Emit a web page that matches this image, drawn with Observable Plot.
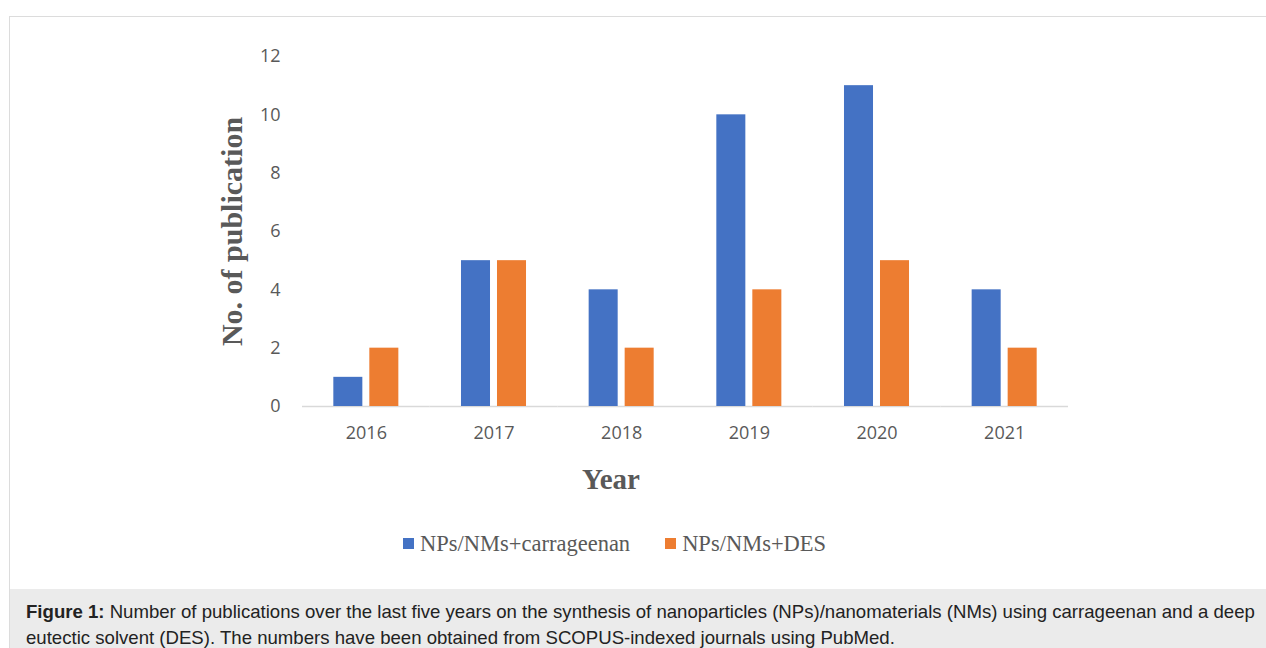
<!DOCTYPE html>
<html>
<head>
<meta charset="utf-8">
<script src="https://cdn.jsdelivr.net/npm/d3@7"></script>
<script src="https://cdn.jsdelivr.net/npm/@observablehq/plot@0.6"></script>
<style>
  html, body { margin: 0; padding: 0; background: #fff; }
  #fig { position: relative; width: 1266px; height: 648px; overflow: hidden; }
  #panel { position: absolute; left: 9px; top: 16px; width: 1270px; height: 640px;
           border-left: 1.5px solid #dcdcdc; border-top: 1.5px solid #dcdcdc; box-sizing: border-box; }
  #chart { position: absolute; left: 0; top: 0; }
  #chart g[aria-label="y-axis label"] text { font: bold 30px "Liberation Serif", serif; fill: #595959; }
  #xlabel { position: absolute; top: 463px; left: 582px; font: bold 29px "Liberation Serif", serif; color: #595959; }
  #legend { position: absolute; top: 529px; left: 403px; height: 29px; display: flex; align-items: center;
            font: 22.5px "Liberation Serif", serif; color: #595959; white-space: nowrap; }
  #legend .sw { display: inline-block; width: 11px; height: 11px; margin-right: 6px; }
  #legend .item { display: flex; align-items: center; margin-right: 35px; }
  #caption { position: absolute; left: 10px; top: 589px; width: 1260px; height: 70px; background: #ebebeb;
             font: 18.6px "Liberation Sans", Arial, sans-serif; color: #222; line-height: 26px;
             padding: 10px 0 0 16px; box-sizing: border-box; white-space: nowrap; }
</style>
</head>
<body>
<div id="fig">
  <div id="panel"></div>
  <div id="chart"></div>
  <div id="xlabel">Year</div>
  <div id="legend"></div>
  <div id="caption"><b>Figure 1:</b> Number of publications over the last five years on the synthesis of nanoparticles (NPs)/nanomaterials (NMs) using carrageenan and a deep<br>eutectic solvent (DES). The numbers have been obtained from SCOPUS-indexed journals using PubMed.</div>
</div>
<script>
// Publication counts per year
const years = ["2016", "2017", "2018", "2019", "2020", "2021"];
const series = ["NPs/NMs+carrageenan", "NPs/NMs+DES"];
const carrageenan = [1, 5, 4, 10, 11, 4];
const des = [2, 5, 2, 4, 5, 2];
const colors = ["#4472C4", "#ED7D31"];
const yTicks = [0, 2, 4, 6, 8, 10, 12];

const rows = years.flatMap((year, i) => [
  {year, series: series[0], value: carrageenan[i]},
  {year, series: series[1], value: des[i]}
]);

const chart = Plot.plot({
  width: 1266,
  height: 500,
  marginLeft: 302,
  marginRight: 198,
  marginTop: 56,
  marginBottom: 94,
  style: {fontFamily: "'Open Sans', sans-serif", fontSize: "18px", color: "#595959", background: "transparent"},
  fx: {domain: years, padding: 0, round: false, label: null},
  x: {domain: series, paddingInner: 0.194, paddingOuter: 0.87, round: false, axis: null},
  y: {domain: [0, 12]},
  color: {domain: series, range: colors},
  marks: [
    Plot.axisY({ticks: yTicks, tickSize: 0, tickPadding: 22, label: "No. of publication",
                labelAnchor: "center", labelArrow: "none", labelOffset: 82}),
    Plot.axisFx({anchor: "bottom", tickSize: 0, tickPadding: 20, label: null}),
    Plot.ruleY([0], {stroke: "#d9d9d9", strokeWidth: 1.3}),
    Plot.barY(rows, {fx: "year", x: "series", y: "value", fill: "series"})
  ]
});
document.getElementById("chart").appendChild(chart);

const legend = document.getElementById("legend");
series.forEach((name, i) => {
  const item = document.createElement("span");
  item.className = "item";
  const sw = document.createElement("span");
  sw.className = "sw";
  sw.style.background = colors[i];
  item.appendChild(sw);
  item.appendChild(document.createTextNode(name));
  legend.appendChild(item);
});
</script>
</body>
</html>
